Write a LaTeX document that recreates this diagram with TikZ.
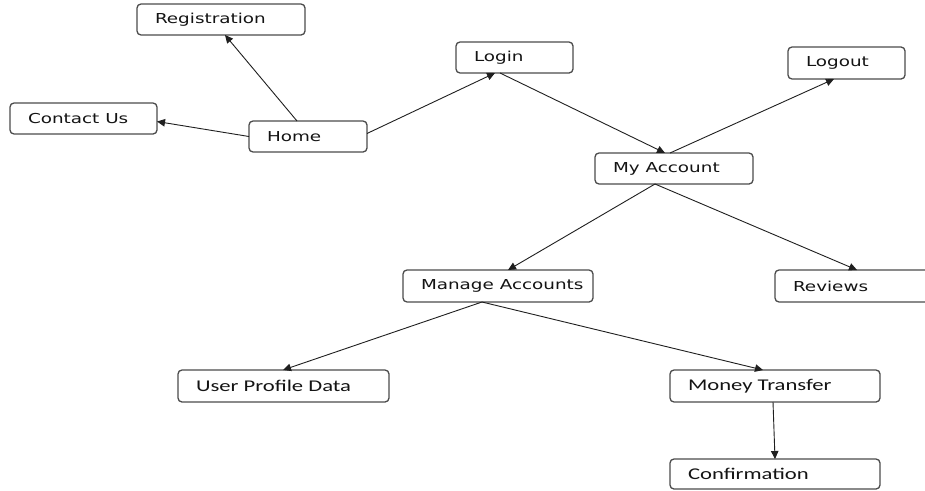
\documentclass[tikz,border=0pt]{standalone}
\usepackage{fontspec}
\usetikzlibrary{arrows.meta}
\newfontfamily\topfont[FakeStretch=1.34]{DejaVu Sans}
\newfontfamily\botfont[FakeStretch=1.38]{Carlito}
\newcommand\tfont{\topfont\fontsize{13.7}{16}\selectfont}
\newcommand\bfont{\botfont\fontsize{16.4}{19}\selectfont}
\newcommand\mybox[7]{%
  \pgfmathsetmacro\bw{#4-#2}\pgfmathsetmacro\bh{#5-#3}\pgfmathsetmacro\tw{\bw-36}%
  \node[box, minimum width=\bw pt, minimum height=\bh pt] (#1) at (#2,#3) {#6\makebox[\tw pt][l]{#7}};}
\tikzset{
  box/.style={draw=black!70, line width=1.3pt, rounded corners=4pt, anchor=north west,
    inner xsep=18pt, inner ysep=0pt, outer sep=0pt, fill=white, text=black!92},
  link/.style={draw=black!88, line width=0.9pt, -{Triangle[length=8pt,width=7.5pt]}}
}
\begin{document}
\begin{tikzpicture}[x=1pt,y=-1pt]
\useasboundingbox (0,0) rectangle (925,490);
\clip (0,0) rectangle (925,490);
\fill[white] (0,0) rectangle (925,490);
\mybox{reg}{137}{4}{305}{35}{\tfont}{Registration}
\mybox{contact}{10}{103}{157}{134}{\tfont}{Contact Us}
\mybox{home}{249}{121}{367}{152}{\tfont}{Home}
\mybox{login}{456}{42}{573}{73}{\tfont}{Login}
\mybox{logout}{788}{47}{905}{79}{\tfont}{Logout}
\mybox{myacc}{595}{153}{753}{184}{\tfont}{My Account}
\mybox{manage}{403}{270}{593}{302}{\tfont}{Manage Accounts}
\mybox{reviews}{775}{270}{945}{302}{\tfont}{Reviews}
\mybox{upd}{178}{370}{389}{402}{\bfont}{User Profile Data}
\mybox{money}{670}{370}{880}{402}{\bfont}{Money Transfer}
\mybox{conf}{670}{459}{880}{489}{\bfont}{Confirmation}

\draw[link] ([xshift=48pt]home.north west) -- ([xshift=88pt]reg.south west);
\draw[link] (home.west) -- ([yshift=-3pt]contact.east);
\draw[link] ([yshift=3pt]home.east) -- ([xshift=39pt]login.south west);
\draw[link] ([xshift=44pt]login.south west) -- ([xshift=70pt]myacc.north west);
\draw[link] ([xshift=75pt]myacc.north west) -- ([xshift=46pt]logout.south west);
\draw[link] ([xshift=60pt]myacc.south west) -- ([xshift=105pt]manage.north west);
\draw[link] ([xshift=60pt]myacc.south west) -- ([xshift=82pt]reviews.north west);
\draw[link] ([xshift=79pt]manage.south west) -- ([xshift=105pt]upd.north west);
\draw[link] ([xshift=79pt]manage.south west) -- ([xshift=93pt]money.north west);
\draw[link] ([xshift=103pt]money.south west) -- ([xshift=105pt]conf.north west);
\end{tikzpicture}
\end{document}
